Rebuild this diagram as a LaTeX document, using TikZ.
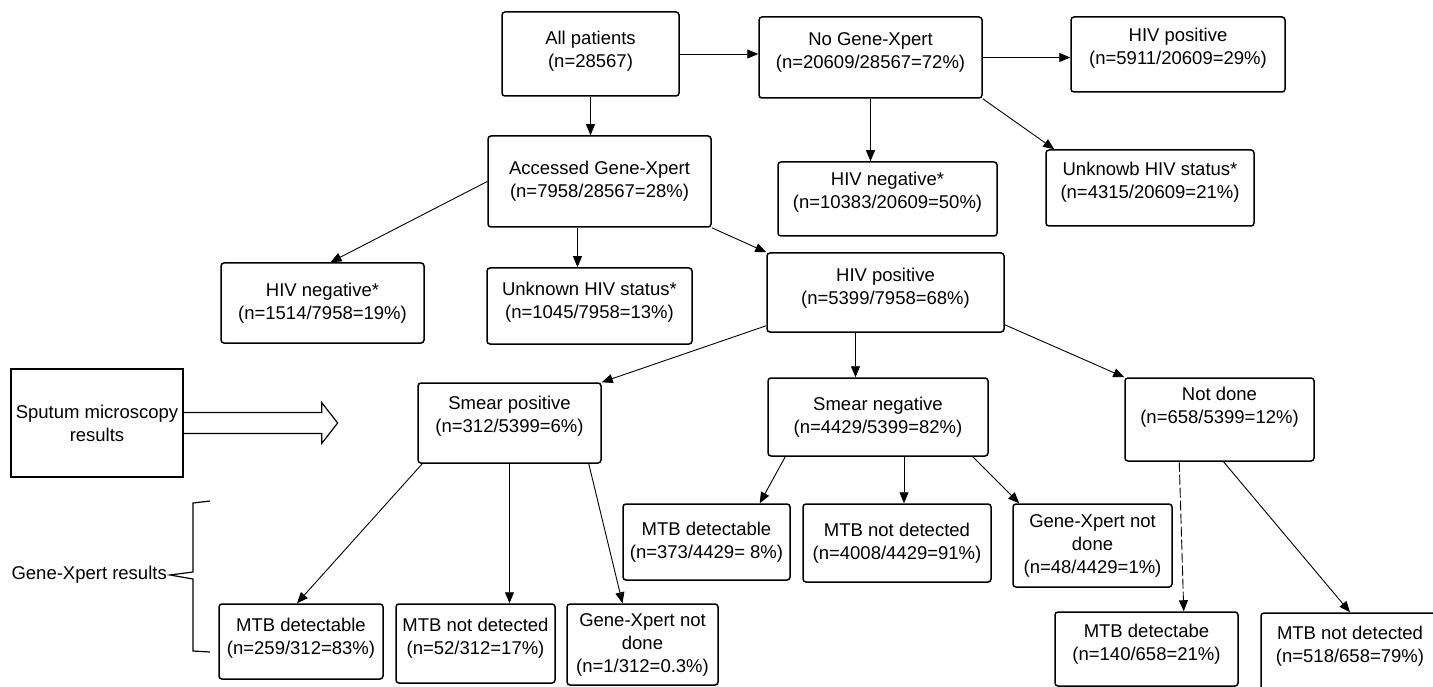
\documentclass[tikz,border=0pt]{standalone}
\usepackage{fontspec}
\setmainfont{Liberation Sans}
\usetikzlibrary{arrows.meta}
\newcommand{\sink}[1]{\rule[-#1pt]{0pt}{#1pt}}

\begin{document}
\begin{tikzpicture}[x=1pt, y=-1pt,
    box/.style={draw, rounded corners=3pt, line width=1.5pt, align=center, inner sep=0pt},
    arr/.style={-{Triangle[length=11pt, width=9pt]}, line width=0.9pt},
    font=\fontsize{18.5}{23}\selectfont]
  \useasboundingbox (0,0) rectangle (1433,687);
  \node[box, minimum width=177pt, minimum height=84pt] (N1) at (590.5,54) {All patients\\(n=28567)\sink{9}};
  \node[box, minimum width=223pt, minimum height=81pt] (N2) at (870.5,57.5) {No Gene-Xpert\\(n=20609/28567=72\%)\sink{13}};
  \node[box, minimum width=214pt, minimum height=75pt] (N3) at (1178,54.5) {HIV positive\\(n=5911/20609=29\%)\sink{16}};
  \node[box, minimum width=223pt, minimum height=91pt] (N4) at (599.5,181.5) {Accessed Gene-Xpert\\(n=7958/28567=28\%)};
  \node[box, minimum width=219pt, minimum height=74pt] (N5) at (887.5,199) {HIV negative*\\(n=10383/20609=50\%)\sink{17}};
  \node[box, minimum width=208pt, minimum height=76pt] (N6) at (1150,188) {Unknowb HIV status*\\(n=4315/20609=21\%)\sink{15}};
  \node[box, minimum width=203pt, minimum height=80pt] (N7) at (322.5,303) {HIV negative*\\(n=1514/7958=19\%)};
  \node[box, minimum width=205pt, minimum height=76pt] (N8) at (589.5,306) {Unknown HIV status*\\(n=1045/7958=13\%)\sink{11}};
  \node[box, minimum width=237pt, minimum height=79pt] (N9) at (885.5,292.5) {HIV positive\\(n=5399/7958=68\%)\sink{12}};
  \node[box, minimum width=183pt, minimum height=80pt] (N10) at (509.5,423) {Smear positive\\(n=312/5399=6\%)\sink{18}};
  \node[box, minimum width=220pt, minimum height=78pt] (N11) at (878,417) {Smear negative\\(n=4429/5399=82\%)};
  \node[box, minimum width=189pt, minimum height=83pt] (N12) at (1219.5,419.5) {Not done\\(n=658/5399=12\%)\sink{28}};
  \node[box, minimum width=167pt, minimum height=76pt] (N13) at (706.5,542) {MTB detectable\\(n=373/4429= 8\%)};
  \node[box, minimum width=188pt, minimum height=78pt] (N14) at (897,543) {MTB not detected\\(n=4008/4429=91\%)};
  \node[box, minimum width=159pt, minimum height=83pt] (N15) at (1092.5,545.5) {Gene-Xpert not\\done\\(n=48/4429=1\%)};
  \node[box, minimum width=164pt, minimum height=75pt] (N16) at (301,641.5) {MTB detectable\\(n=259/312=83\%)\sink{10}};
  \node[box, minimum width=159pt, minimum height=79pt] (N17) at (475.5,643.5) {MTB not detected\\(n=52/312=17\%)\sink{14}};
  \node[box, minimum width=151pt, minimum height=81pt] (N18) at (642.5,644.5) {Gene-Xpert not\\done\\(n=1/312=0.3\%)};
  \node[box, minimum width=183pt, minimum height=74pt] (N19) at (1146.5,649) {MTB detectabe\\(n=140/658=21\%)\sink{14}};
  \node[box, minimum width=178pt, minimum height=87pt] (N20) at (1350,656.5) {MTB not detected\\(n=518/658=79\%)\sink{25}};
  \node[draw, line width=1.3pt, minimum width=172pt, minimum height=108pt, align=center, inner sep=0pt] (N0) at (97,423) {Sputum microscopy\\results};
  \node[anchor=east, inner sep=3pt] (N21) at (170,575) {Gene-Xpert results};
  % connectors
  \draw[arr] (N1.east) -- (N1.east -| N2.west);
  \draw[arr] (N2.east) -- (N2.east -| N3.west);
  \draw[arr] (N2.south) -- (N2.south |- N5.north);
  \draw[arr] (N2.south east) -- ([xshift=9pt]N6.north west);
  \draw[arr] (N1.south) -- (N1.south |- N4.north);
  \draw[arr] (N4.west) -- ([xshift=8pt]N7.north);
  \draw[arr] ([xshift=-22pt]N4.south) -- ([xshift=-22pt]N4.south |- N8.north);
  \draw[arr] (N4.south east) -- (N9.north west);
  \draw[arr] ([yshift=7pt]N9.south west) -- (N10.north east);
  \draw[arr] ([xshift=-30pt]N9.south) -- ([xshift=-30pt]N9.south |- N11.north);
  \draw[arr] ([yshift=8pt]N9.south east) -- (N12.north west);
  \draw[arr] ([xshift=5pt]N10.south west) -- ([xshift=-4pt]N16.north);
  \draw[arr] (N10.south) -- (N10.south |- N17.north);
  \draw[arr] ([xshift=-13pt]N10.south east) -- ([xshift=-20pt]N18.north);
  \draw[arr] ([xshift=18pt]N11.south west) -- ([xshift=-31pt]N13.north east);
  \draw[arr] ([xshift=26pt]N11.south) -- ([xshift=26pt]N11.south |- N14.north);
  \draw[arr] ([xshift=-16pt]N11.south east) -- ([xshift=7pt]N15.north west);
  \draw[arr, dash pattern=on 10pt off 3pt] ([xshift=55pt]N12.south west) -- ([xshift=-55pt]N19.north east);
  \draw[arr] ([xshift=4pt]N12.south) -- (N20.north);
  % hollow arrow and brace
  \draw[line width=1.2pt] ([yshift=10.5pt]N0.east) -- ++(138,0) -- ++(0,-10) -- ++(16,20.5) -- ++(-16,20.5) -- ++(0,-10) -- ++(-138,0);
  \draw[line width=1.2pt] (210,501) -- (193,503) -- (193,572) -- (N21.east) -- (193,579) -- (193,651) -- (210,652);
\end{tikzpicture}
\end{document}
